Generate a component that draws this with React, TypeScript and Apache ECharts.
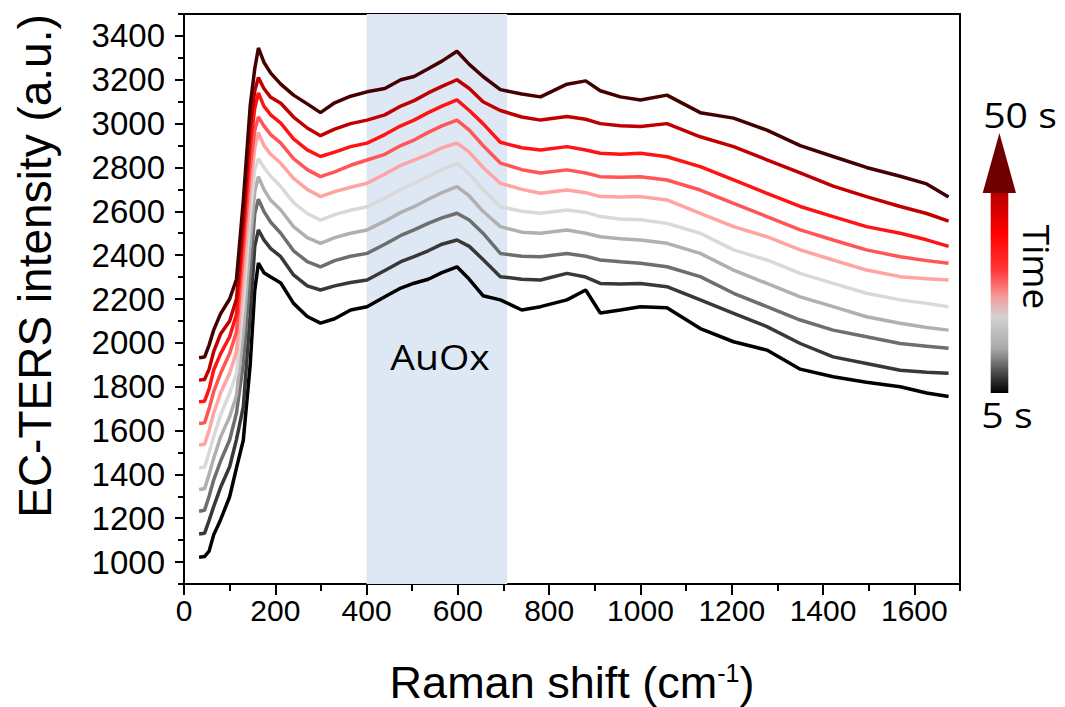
import React, { useEffect, useRef } from "react";
import * as echarts from "echarts";

const ramanShift = [33, 45, 55, 65, 80, 100, 115, 130, 145, 155, 163, 175, 190, 212, 240, 270, 299, 330, 365, 401, 440, 475, 504, 535, 565, 598, 625, 655, 693, 740, 781, 839, 880, 912, 956, 1000, 1058, 1131, 1204, 1277, 1350, 1422, 1495, 1569, 1627, 1675];

const t5 = [1022, 1025, 1050, 1124, 1192, 1298, 1430, 1557, 1900, 2240, 2364, 2320, 2300, 2273, 2180, 2120, 2090, 2110, 2150, 2165, 2210, 2250, 2272, 2290, 2320, 2347, 2290, 2215, 2196, 2150, 2165, 2196, 2241, 2136, 2150, 2165, 2160, 2065, 2005, 1967, 1880, 1845, 1820, 1800, 1771, 1755];
const t10 = [1128, 1131, 1190, 1253, 1340, 1435, 1560, 1709, 2130, 2440, 2515, 2470, 2430, 2393, 2310, 2260, 2241, 2260, 2275, 2287, 2330, 2370, 2393, 2420, 2450, 2469, 2440, 2380, 2302, 2290, 2287, 2317, 2300, 2271, 2268, 2271, 2256, 2196, 2134, 2074, 1997, 1936, 1906, 1875, 1866, 1861];
const t15 = [1232, 1236, 1300, 1374, 1460, 1557, 1680, 1907, 2320, 2590, 2655, 2600, 2550, 2500, 2420, 2370, 2347, 2375, 2395, 2408, 2450, 2490, 2515, 2545, 2570, 2591, 2560, 2500, 2408, 2395, 2393, 2408, 2395, 2378, 2370, 2363, 2347, 2302, 2226, 2165, 2104, 2058, 2028, 1997, 1985, 1975];
const t20 = [1331, 1334, 1400, 1473, 1570, 1663, 1760, 2050, 2460, 2690, 2758, 2700, 2650, 2606, 2530, 2480, 2454, 2480, 2500, 2515, 2555, 2595, 2621, 2655, 2685, 2713, 2670, 2600, 2530, 2505, 2500, 2515, 2500, 2484, 2475, 2469, 2454, 2408, 2332, 2271, 2210, 2165, 2119, 2089, 2070, 2058];
const t25 = [1430, 1433, 1500, 1572, 1670, 1770, 1860, 2180, 2590, 2790, 2840, 2800, 2760, 2713, 2640, 2590, 2560, 2585, 2605, 2621, 2660, 2700, 2728, 2760, 2790, 2819, 2770, 2700, 2621, 2600, 2591, 2606, 2595, 2576, 2565, 2561, 2545, 2500, 2424, 2378, 2317, 2271, 2226, 2196, 2180, 2165];
const t30 = [1534, 1537, 1600, 1679, 1770, 1861, 1960, 2300, 2700, 2890, 2960, 2900, 2860, 2819, 2750, 2700, 2667, 2690, 2710, 2728, 2770, 2810, 2834, 2860, 2890, 2911, 2870, 2800, 2728, 2700, 2682, 2697, 2685, 2667, 2665, 2667, 2652, 2591, 2530, 2484, 2424, 2378, 2332, 2302, 2292, 2287];
const t35 = [1632, 1635, 1700, 1777, 1860, 1952, 2050, 2420, 2800, 2970, 3030, 2990, 2950, 2911, 2840, 2790, 2758, 2780, 2810, 2834, 2860, 2900, 2925, 2960, 2990, 3016, 2970, 2900, 2820, 2790, 2775, 2789, 2775, 2758, 2755, 2758, 2743, 2697, 2636, 2576, 2515, 2469, 2424, 2393, 2375, 2363];
const t40 = [1731, 1734, 1790, 1876, 1950, 2028, 2130, 2500, 2900, 3070, 3140, 3080, 3040, 3002, 2930, 2880, 2850, 2870, 2895, 2911, 2950, 2990, 3016, 3050, 3080, 3108, 3060, 3000, 2915, 2890, 2880, 2895, 2880, 2865, 2860, 2865, 2849, 2804, 2743, 2682, 2622, 2576, 2530, 2500, 2470, 2440];
const t45 = [1830, 1833, 1880, 1960, 2040, 2100, 2200, 2560, 2990, 3150, 3210, 3160, 3120, 3093, 3030, 2980, 2945, 2975, 3000, 3016, 3040, 3080, 3105, 3140, 3170, 3200, 3160, 3100, 3060, 3030, 3016, 3032, 3020, 3000, 2990, 2987, 3000, 2940, 2895, 2835, 2775, 2715, 2667, 2622, 2590, 2555];
const t50 = [1932, 1935, 1990, 2058, 2132, 2200, 2290, 2650, 3080, 3250, 3345, 3280, 3230, 3180, 3130, 3090, 3050, 3095, 3125, 3145, 3160, 3200, 3215, 3250, 3285, 3330, 3270, 3215, 3155, 3135, 3122, 3180, 3195, 3150, 3122, 3108, 3130, 3050, 3025, 2970, 2900, 2850, 2800, 2760, 2725, 2665];

const spectra = [t5, t10, t15, t20, t25, t30, t35, t40, t45, t50];
const seriesNames = ["5 s", "10 s", "15 s", "20 s", "25 s", "30 s", "35 s", "40 s", "45 s", "50 s"];
const seriesColors = ["#000000", "#383838", "#6e6e6e", "#b0b0b0", "#d9d9d9", "#ffa3a3", "#ff5555", "#ff1414", "#c00000", "#450000"];

const xMajorTicks = [0, 200, 400, 600, 800, 1000, 1200, 1400, 1600];
const xMinorTicks = [100, 300, 500, 700, 900, 1100, 1300, 1500, 1700];
const yMajorTicks = [1000, 1200, 1400, 1600, 1800, 2000, 2200, 2400, 2600, 2800, 3000, 3200, 3400];
const yMinorTicks = [900, 1100, 1300, 1500, 1700, 1900, 2100, 2300, 2500, 2700, 2900, 3100, 3300, 3500];
const auOxShift = [400, 708];
const auOxIntensity = [760, 3500];

const tickFont = "'Liberation Sans', Arial, sans-serif";
const noteFont = "'Open Sans', 'Noto Sans', sans-serif";

export default function App() {
  const ref = useRef<HTMLDivElement>(null);
  useEffect(() => {
    if (!ref.current) return;
    const chart = echarts.init(ref.current, undefined, { renderer: "svg" });
    const axisColor = "#000000";
    const plain = (v: number) => String(v);
    const lineSeries = spectra.map((vals, i) => ({
      name: seriesNames[i],
      type: "line",
      xAxisIndex: 0,
      yAxisIndex: 0,
      showSymbol: false,
      symbol: "none",
      z: 3,
      lineStyle: { color: seriesColors[i], width: 3.5 },
      itemStyle: { color: seriesColors[i] },
      data: ramanShift.map((x, j) => [x, vals[j]]),
    }));
    const option: any = {
      animation: false,
      backgroundColor: "#ffffff",
      grid: {
        left: 184,
        right: 105,
        top: 14,
        bottom: 123,
        show: true,
        borderColor: axisColor,
        borderWidth: 2,
        backgroundColor: "transparent",
        outerBoundsMode: "none",
      },
      xAxis: [
        {
          type: "value",
          min: 0,
          max: 1700,
          position: "bottom",
          name: "Raman shift (cm{sup|-1}{par|)}",
          nameLocation: "middle",
          nameGap: 76,
          nameTextStyle: {
            fontFamily: tickFont,
            fontSize: 45,
            color: axisColor,
            rich: {
              sup: { fontFamily: tickFont, fontSize: 25, verticalAlign: "top", lineHeight: 45, color: axisColor },
              par: { fontFamily: tickFont, fontSize: 45, color: axisColor },
            },
          },
          axisLine: { show: true, lineStyle: { color: axisColor, width: 2 } },
          axisTick: { show: true, customValues: xMajorTicks, length: 11, lineStyle: { color: axisColor, width: 2 } },
          axisLabel: { show: true, customValues: xMajorTicks, formatter: plain, fontFamily: tickFont, fontSize: 30, color: axisColor, margin: 11 },
          splitLine: { show: false },
        },
        {
          type: "value",
          min: 0,
          max: 1700,
          position: "bottom",
          axisLine: { show: false },
          axisTick: { show: true, customValues: xMinorTicks, length: 7, lineStyle: { color: axisColor, width: 2 } },
          axisLabel: { show: false },
          splitLine: { show: false },
        },
      ],
      yAxis: [
        {
          type: "value",
          min: 900,
          max: 3500,
          position: "left",
          axisLine: { show: true, lineStyle: { color: axisColor, width: 2 } },
          axisTick: { show: true, customValues: yMajorTicks, length: 9, lineStyle: { color: axisColor, width: 2 } },
          axisLabel: { show: true, customValues: yMajorTicks, formatter: plain, fontFamily: tickFont, fontSize: 33, color: axisColor, margin: 19 },
          splitLine: { show: false },
        },
        {
          type: "value",
          min: 900,
          max: 3500,
          position: "left",
          axisLine: { show: false },
          axisTick: { show: true, customValues: yMinorTicks, length: 6, lineStyle: { color: axisColor, width: 2 } },
          axisLabel: { show: false },
          splitLine: { show: false },
        },
      ],
      series: [
        {
          name: "AuOx",
          type: "line",
          xAxisIndex: 0,
          yAxisIndex: 0,
          data: [],
          z: 1,
          markArea: {
            silent: true,
            itemStyle: { color: "#dde8f4" },
            data: [[{ xAxis: auOxShift[0], yAxis: auOxIntensity[0] }, { xAxis: auOxShift[1], yAxis: auOxIntensity[1] }]],
          },
        },
        ...lineSeries,
      ],
      graphic: [
        {
          type: "text",
          x: 35,
          y: 266,
          rotation: Math.PI / 2,
          style: { text: "EC-TERS intensity (a.u.)", fontFamily: tickFont, fontSize: 46, fill: "#000", align: "center", verticalAlign: "middle" },
        },
        {
          type: "text",
          x: 440,
          y: 357,
          z: 10,
          scaleX: 1.15,
          style: { text: "AuOx", fontFamily: noteFont, fontSize: 34, fill: "#000", align: "center", verticalAlign: "middle" },
        },
        {
          type: "rect",
          shape: { x: 990.7, y: 193, width: 17.6, height: 200 },
          style: {
            fill: new echarts.graphic.LinearGradient(0, 0, 0, 1, [
              { offset: 0, color: "#b80000" },
              { offset: 0.2, color: "#ff0000" },
              { offset: 0.38, color: "#ff3535" },
              { offset: 0.52, color: "#f49a9a" },
              { offset: 0.62, color: "#d2d2d2" },
              { offset: 0.78, color: "#a8a8a8" },
              { offset: 0.9, color: "#4a4a4a" },
              { offset: 1, color: "#000000" },
            ]),
          },
        },
        {
          type: "polygon",
          shape: { points: [[982.7, 193], [1016, 193], [999.4, 133]] },
          style: { fill: "#700000" },
        },
        {
          type: "text",
          x: 1020,
          y: 114,
          scaleX: 1.12,
          style: { text: "50 s", fontFamily: noteFont, fontSize: 35, fill: "#000", align: "center", verticalAlign: "middle" },
        },
        {
          type: "text",
          x: 1007,
          y: 414,
          scaleX: 1.12,
          style: { text: "5 s", fontFamily: noteFont, fontSize: 35, fill: "#000", align: "center", verticalAlign: "middle" },
        },
        {
          type: "text",
          x: 1037,
          y: 267,
          rotation: -Math.PI / 2,
          style: { text: "Time", fontFamily: noteFont, fontSize: 37, fill: "#000", align: "center", verticalAlign: "middle" },
        },
      ],
    };
    chart.setOption(option);
    return () => chart.dispose();
  }, []);
  return <div ref={ref} style={{ position: "absolute", left: 0, top: 0, width: 1065, height: 707 }} />;
}
